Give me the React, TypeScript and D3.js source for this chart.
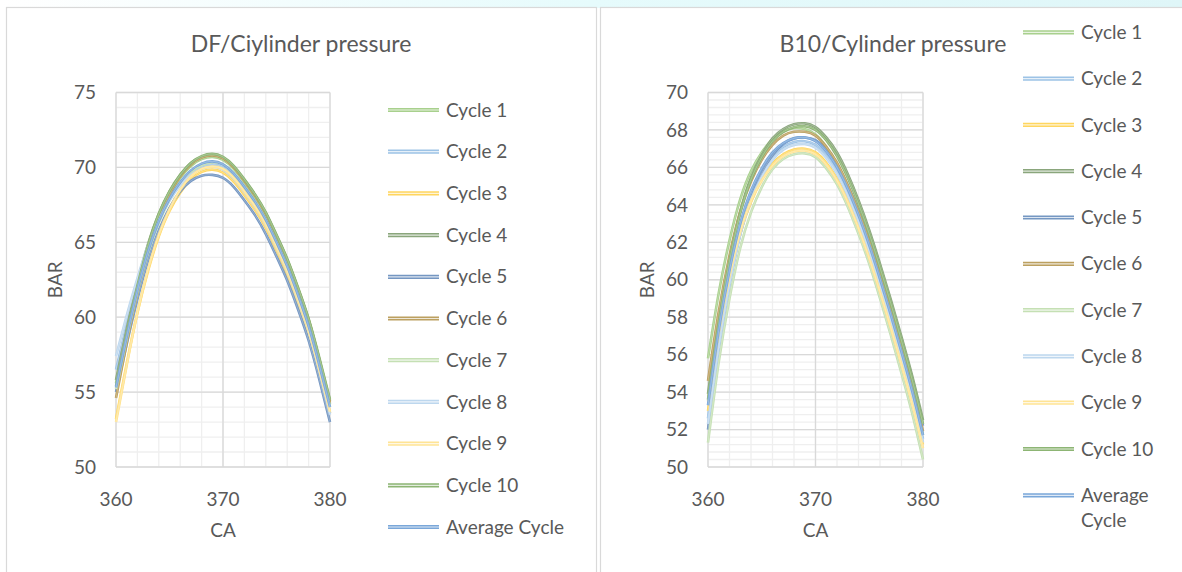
import React from "react";
import * as d3 from "d3";

const CA = [360, 361, 362, 363, 364, 365, 366, 367, 368, 369, 370, 371, 372, 373, 374, 375, 376, 377, 378, 379, 380];

const seriesNames = ["Cycle 1", "Cycle 2", "Cycle 3", "Cycle 4", "Cycle 5", "Cycle 6", "Cycle 7", "Cycle 8", "Cycle 9", "Cycle 10", "Average Cycle"];
const seriesColors = ["#a8d08d", "#9dc3e6", "#ffd65f", "#8aa67c", "#7597c2", "#bca060", "#c5e0b4", "#bdd7ee", "#ffe495", "#8db574", "#7aa7d9"];

// DF / cylinder pressure (BAR)
const df1 = [55.6, 59.0, 62.1, 64.7, 66.7, 68.2, 69.3, 70.1, 70.55, 70.7, 70.5, 69.9, 69.0, 68.0, 66.8, 65.3, 63.7, 61.8, 59.7, 57.0, 54.2];
const df2 = [56.5, 59.5, 62.3, 64.7, 66.5, 67.9, 68.9, 69.6, 70.05, 70.2, 70.0, 69.4, 68.5, 67.5, 66.3, 64.8, 63.2, 61.3, 59.2, 56.5, 53.6];
const df3 = [53.2, 56.9, 60.3, 63.1, 65.4, 67.1, 68.3, 69.2, 69.7, 69.85, 69.65, 69.05, 68.15, 67.15, 65.95, 64.45, 62.85, 60.95, 58.85, 56.25, 53.6];
const df4 = [55.8, 59.2, 62.3, 64.9, 66.9, 68.4, 69.5, 70.3, 70.7, 70.85, 70.65, 70.05, 69.15, 68.15, 66.95, 65.45, 63.85, 61.95, 59.85, 57.2, 54.4];
const df5 = [55.0, 58.2, 61.2, 63.8, 65.8, 67.3, 68.4, 69.1, 69.45, 69.5, 69.3, 68.7, 67.8, 66.8, 65.55, 64.05, 62.45, 60.55, 58.45, 55.85, 53.0];
const df6 = [54.6, 58.3, 61.6, 64.4, 66.6, 68.2, 69.4, 70.2, 70.65, 70.8, 70.6, 70.0, 69.1, 68.1, 66.9, 65.4, 63.8, 61.9, 59.8, 57.15, 54.3];
const df7 = [55.2, 58.6, 61.7, 64.3, 66.3, 67.8, 68.9, 69.7, 70.15, 70.35, 70.2, 69.6, 68.7, 67.7, 66.5, 65.0, 63.4, 61.5, 59.4, 56.8, 54.0];
const df8 = [57.4, 60.1, 62.6, 64.8, 66.5, 67.8, 68.8, 69.5, 69.9, 70.05, 69.85, 69.25, 68.35, 67.35, 66.15, 64.65, 63.05, 61.15, 59.05, 56.4, 53.5];
const df9 = [53.0, 56.8, 60.3, 63.2, 65.5, 67.2, 68.5, 69.4, 69.9, 70.05, 69.9, 69.3, 68.4, 67.4, 66.2, 64.7, 63.1, 61.2, 59.1, 56.5, 53.7];
const df10 = [55.4, 58.9, 62.1, 64.8, 66.9, 68.4, 69.5, 70.3, 70.75, 70.9, 70.7, 70.1, 69.2, 68.2, 67.0, 65.5, 63.9, 62.0, 59.9, 57.3, 54.5];
const dfAvg = [55.3, 58.7, 61.8, 64.4, 66.4, 67.9, 69.0, 69.8, 70.25, 70.4, 70.2, 69.6, 68.7, 67.7, 66.5, 65.0, 63.4, 61.5, 59.4, 56.8, 54.0];

// B10 / cylinder pressure (BAR)
const b1 = [55.8, 59.3, 62.1, 64.3, 65.8, 66.8, 67.5, 67.9, 68.1, 68.05, 67.75, 67.1, 66.15, 64.9, 63.45, 61.85, 60.05, 58.15, 56.15, 54.05, 51.7];
const b2 = [52.6, 56.75, 60.05, 62.65, 64.45, 65.7, 66.6, 67.1, 67.35, 67.4, 67.2, 66.65, 65.8, 64.65, 63.25, 61.65, 59.85, 57.95, 55.95, 53.85, 51.5];
const b3 = [53.0, 56.9, 60.0, 62.45, 64.15, 65.35, 66.2, 66.7, 66.95, 67.0, 66.8, 66.25, 65.4, 64.25, 62.85, 61.25, 59.45, 57.6, 55.6, 53.55, 51.2];
const b4 = [53.9, 57.9, 61.1, 63.65, 65.45, 66.65, 67.55, 68.05, 68.3, 68.35, 68.15, 67.6, 66.8, 65.65, 64.25, 62.65, 60.85, 58.95, 56.95, 54.85, 52.5];
const b5 = [52.0, 56.3, 59.75, 62.45, 64.35, 65.7, 66.65, 67.25, 67.55, 67.6, 67.45, 66.95, 66.15, 65.05, 63.7, 62.15, 60.4, 58.55, 56.6, 54.5, 52.2];
const b6 = [54.6, 58.3, 61.3, 63.65, 65.25, 66.4, 67.2, 67.7, 67.9, 67.9, 67.7, 67.1, 66.25, 65.05, 63.65, 62.05, 60.25, 58.35, 56.35, 54.25, 51.9];
const b7 = [51.3, 55.6, 59.0, 61.7, 63.6, 64.95, 65.9, 66.45, 66.7, 66.75, 66.55, 65.95, 65.1, 63.9, 62.45, 60.85, 59.0, 57.05, 55.0, 52.85, 50.4];
const b8 = [52.3, 56.4, 59.75, 62.4, 64.25, 65.5, 66.4, 66.95, 67.2, 67.25, 67.05, 66.5, 65.65, 64.5, 63.1, 61.5, 59.65, 57.75, 55.75, 53.65, 51.3];
const b9 = [53.5, 57.2, 60.2, 62.55, 64.2, 65.3, 66.1, 66.6, 66.85, 66.9, 66.7, 66.15, 65.3, 64.15, 62.75, 61.15, 59.35, 57.45, 55.45, 53.35, 51.0];
const b10 = [53.6, 57.7, 61.0, 63.55, 65.35, 66.55, 67.4, 67.9, 68.15, 68.2, 68.0, 67.45, 66.6, 65.45, 64.05, 62.45, 60.65, 58.75, 56.75, 54.65, 52.3];
const bAvg = [53.3, 57.3, 60.5, 63.0, 64.75, 65.95, 66.8, 67.3, 67.55, 67.6, 67.4, 66.85, 66.0, 64.85, 63.45, 61.85, 60.05, 58.15, 56.15, 54.05, 51.7];

const dfSeries = [df1, df2, df3, df4, df5, df6, df7, df8, df9, df10, dfAvg];
const b10Series = [b1, b2, b3, b4, b5, b6, b7, b8, b9, b10, bAvg];

const xTicks = [360, 370, 380];
const dfYTicks = [50, 55, 60, 65, 70, 75];
const b10YTicks = [50, 52, 54, 56, 58, 60, 62, 64, 66, 68, 70];

const FONT = "Lato, 'Open Sans', sans-serif";
const TEXT = "#595959";

type ChartProps = {
  title: string;
  titleX: number;
  series: number[][];
  yTicks: number[];
  yMinorStep: number;
  plot: { x0: number; x1: number; y0: number; y1: number };
  yLabelX: number;
  barX: number;
  legend: { lineX0: number; lineX1: number; textX: number; y0: number; dy: number; wrapAvg: boolean };
};

function Chart(p: ChartProps) {
  const { plot } = p;
  const yMin = p.yTicks[0];
  const yMax = p.yTicks[p.yTicks.length - 1];
  const x = d3.scaleLinear().domain([360, 380]).range([plot.x0, plot.x1]);
  const y = d3.scaleLinear().domain([yMin, yMax]).range([plot.y1, plot.y0]);
  const xMinor = d3.range(360, 380.001, 2);
  const nMinor = Math.round((yMax - yMin) / p.yMinorStep);
  const yMinor = d3.range(0, nMinor + 1).map((i) => yMin + i * p.yMinorStep);
  const line = d3
    .line<number>()
    .x((_, i) => x(CA[i]))
    .y((d) => y(d))
    .curve(d3.curveNatural);
  const midX = (plot.x0 + plot.x1) / 2;
  const midY = (plot.y0 + plot.y1) / 2;
  return (
    <g>
      <text x={p.titleX} y={52} textAnchor="middle" fontFamily={FONT} fontSize={23} fill={TEXT}>
        {p.title}
      </text>
      {yMinor.map((v, i) => (
        <line key={"ym" + i} x1={plot.x0} x2={plot.x1} y1={y(v)} y2={y(v)} stroke="#efefef" strokeWidth={1.3} />
      ))}
      {xMinor.map((v, i) => (
        <line key={"xm" + i} x1={x(v)} x2={x(v)} y1={plot.y0} y2={plot.y1} stroke="#efefef" strokeWidth={1.3} />
      ))}
      {p.yTicks.map((v) => (
        <line key={"yM" + v} x1={plot.x0} x2={plot.x1} y1={y(v)} y2={y(v)} stroke="#d9d9d9" strokeWidth={1.3} />
      ))}
      {xTicks.map((v) => (
        <line key={"xM" + v} x1={x(v)} x2={x(v)} y1={plot.y0} y2={plot.y1} stroke="#d9d9d9" strokeWidth={1.3} />
      ))}
      {p.series.map((s, i) => (
        <g key={"s" + i}>
          <path d={line(s) || ""} fill="none" stroke={seriesColors[i]} strokeWidth={2.6} />
          <path d={line(s) || ""} fill="none" stroke="#ffffff" strokeOpacity={0.35} strokeWidth={0.7} />
        </g>
      ))}
      {p.yTicks.map((v) => (
        <text key={"yl" + v} x={p.yLabelX} y={y(v)} dy="0.35em" textAnchor="end" fontFamily={FONT} fontSize={19} fill={TEXT}>
          {v}
        </text>
      ))}
      {xTicks.map((v) => (
        <text key={"xl" + v} x={x(v)} y={506} textAnchor="middle" fontFamily={FONT} fontSize={19} fill={TEXT}>
          {v}
        </text>
      ))}
      <text x={midX} y={537} textAnchor="middle" fontFamily={FONT} fontSize={19} fill={TEXT}>
        CA
      </text>
      <text
        transform={`translate(${p.barX},${midY}) rotate(-90)`}
        textAnchor="middle"
        dy="0.35em"
        fontFamily={FONT}
        fontSize={19}
        fill={TEXT}
      >
        BAR
      </text>
      {seriesNames.map((name, i) => {
        const ly = p.legend.y0 + i * p.legend.dy;
        const wrap = p.legend.wrapAvg && i === seriesNames.length - 1;
        return (
          <g key={"lg" + i}>
            <line x1={p.legend.lineX0} x2={p.legend.lineX1} y1={ly} y2={ly} stroke={seriesColors[i]} strokeWidth={4.2} />
            <line x1={p.legend.lineX0} x2={p.legend.lineX1} y1={ly} y2={ly} stroke="#ffffff" strokeOpacity={0.75} strokeWidth={1.2} />
            {wrap ? (
              <text x={p.legend.textX} y={ly} dy="0.35em" fontFamily={FONT} fontSize={19} fill={TEXT}>
                <tspan x={p.legend.textX}>Average</tspan>
                <tspan x={p.legend.textX} dy={25}>
                  Cycle
                </tspan>
              </text>
            ) : (
              <text x={p.legend.textX} y={ly} dy="0.35em" fontFamily={FONT} fontSize={19} fill={TEXT}>
                {name}
              </text>
            )}
          </g>
        );
      })}
    </g>
  );
}

export default function App() {
  return (
    <svg width={1182} height={572} style={{ position: "absolute", left: 0, top: 0, background: "#ffffff" }}>
      <defs>
        <linearGradient id="topband" x1="0" x2="1" y1="0" y2="0">
          <stop offset="0" stopColor="#ffffff" />
          <stop offset="0.5" stopColor="#e6fbfc" />
          <stop offset="1" stopColor="#dff6f8" />
        </linearGradient>
      </defs>
      <rect x={0} y={0} width={1182} height={8} fill="url(#topband)" />
      <rect x={6.5} y={7.5} width={590} height={580} fill="#ffffff" stroke="#d9d9d9" strokeWidth={1.2} />
      <rect x={600.5} y={7.5} width={590} height={580} fill="#ffffff" stroke="#d9d9d9" strokeWidth={1.2} />
      <Chart
        title="DF/Ciylinder pressure"
        titleX={301}
        series={dfSeries}
        yTicks={dfYTicks}
        yMinorStep={1}
        plot={{ x0: 116, x1: 330, y0: 92.5, y1: 467 }}
        yLabelX={96}
        barX={55}
        legend={{ lineX0: 388, lineX1: 439, textX: 446, y0: 110, dy: 41.7, wrapAvg: false }}
      />
      <Chart
        title="B10/Cylinder pressure"
        titleX={893}
        series={b10Series}
        yTicks={b10YTicks}
        yMinorStep={0.4}
        plot={{ x0: 708, x1: 923, y0: 92.5, y1: 467 }}
        yLabelX={688}
        barX={647}
        legend={{ lineX0: 1023, lineX1: 1074, textX: 1081, y0: 32.3, dy: 46.3, wrapAvg: true }}
      />
    </svg>
  );
}
